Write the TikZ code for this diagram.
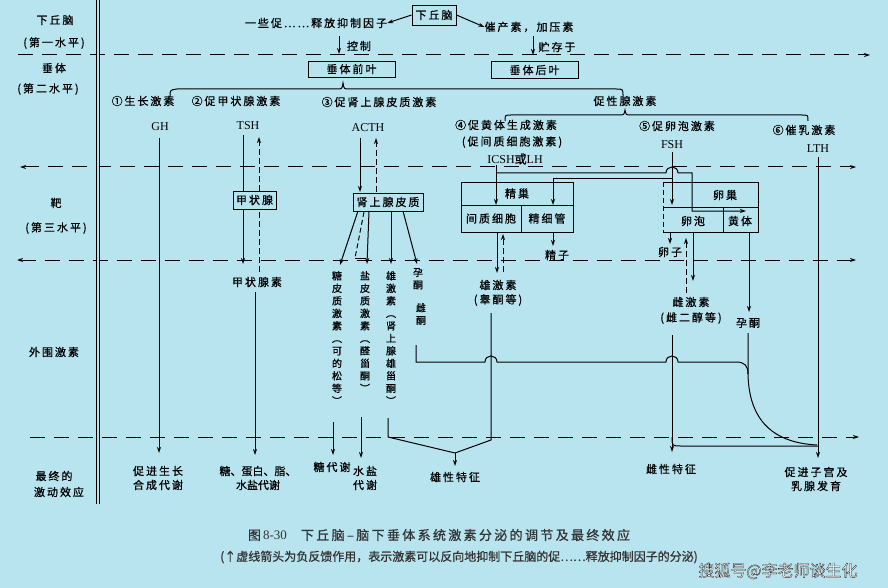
\documentclass[tikz,border=0pt]{standalone}
\usepackage{fontspec}
\setmainfont{Liberation Serif}
\newfontfamily\cjk[LetterSpace=18,FakeBold=0.7]{Noto Sans CJK SC}
\newfontfamily\cjkn[FakeBold=0.7]{Noto Sans CJK SC}
\newfontfamily\wmfont[FakeBold=2]{Noto Sans CJK SC}
\newfontfamily\lat{Liberation Serif}
\usetikzlibrary{arrows.meta}
\definecolor{bgc}{RGB}{184,228,240}
\begin{document}
\begin{tikzpicture}[x=1pt,y=-1pt,
  t/.style={font=\cjk\fontsize{11}{14}\selectfont, inner sep=0pt, align=center},
  tn/.style={font=\cjkn\fontsize{11}{14}\selectfont, inner sep=0pt, align=center},
  la/.style={font=\lat\fontsize{12}{14}\selectfont, inner sep=0pt},
  bx/.style={t, draw, line width=0.9pt, fill=bgc},
  ln/.style={line width=1pt},
  ar/.style={ln, -{Stealth[length=6pt,width=4pt]}},
  fb/.style={ar, dash pattern=on 6pt off 3pt},
  lev/.style={line width=1pt, dash pattern=on 15pt off 9pt},
  vt/.style={font=\cjk\fontsize{10}{12.5}\selectfont, inner sep=0pt, align=center, anchor=north},
]
\fill[bgc] (0,0) rectangle (888,588);
\useasboundingbox (0,0) rectangle (888,588);

% level lines
\coordinate (L1a) at (18,55);  \coordinate (L1b) at (870,55);
\coordinate (L2a) at (20,167); \coordinate (L2b) at (856,167);
\coordinate (L3a) at (17,260); \coordinate (L3b) at (856,260);
\coordinate (L4a) at (30,437); \coordinate (L4b) at (859,437);
\draw[lev,-{Stealth[length=6pt,width=4pt]}] (L1a) -- (L1b);
\draw[lev,{Stealth[length=6pt,width=4pt]}-{Stealth[length=6pt,width=4pt]}] (L2a) -- (L2b);
\draw[lev,{Stealth[length=6pt,width=4pt]}-{Stealth[length=6pt,width=4pt]}] (L3a) -- (L3b);
\draw[lev,-{Stealth[length=6pt,width=4pt]}] (L4a) -- (L4b);

% double vertical rule
\coordinate (V1) at (98,0); \coordinate (V2) at (98,504);
\draw[line width=1.1pt, double=bgc, double distance=1.6pt] (V1) -- (V2);

% left labels
\node[t] (lh1) at (55,20) {下丘脑};
\node[t] (lh2) at (54,43) {(第一水平)};
\node[t] (lp1) at (54,68) {垂体};
\node[t] (lp2) at (48,89) {(第二水平)};
\node[t] (lt1) at (56,203) {靶};
\node[t] (lt2) at (56,228) {(第三水平)};
\node[t] (lw) at (54,352) {外围激素};
\node[t] (lf1) at (54,476) {最终的};
\node[t] (lf2) at (59,492) {激动效应};

% top: hypothalamus
\node[bx, minimum width=44pt, minimum height=20pt] (hyp) at (434,15) {下丘脑};
\node[t] (rel) at (316,23) {一些促……释放抑制因子};
\node[t] (oxy) at (529,27) {催产素，加压素};
\draw[ar] (hyp.west) -- (rel.east);
\draw[ar] (hyp.east) -- (oxy.west);
\node[bx, minimum width=87pt, minimum height=16pt] (ant) at (351.5,69) {垂体前叶};
\node[bx, minimum width=87pt, minimum height=17pt] (pos) at (534.5,70) {垂体后叶};
\coordinate (k1) at (339,36); \coordinate (k2) at (339,54);
\draw[ar] (k1) -- (k2);
\node[t] (kz) at (359,46) {控制};
\coordinate (c1) at (533,36); \coordinate (c2) at (533,55);
\draw[ar] (c1) -- (c2);
\node[t] (zc) at (557,47) {贮存于};

% braces
\draw[ln] (170,97) .. controls (170,90) .. (177,89) -- (337,89) .. controls (342,89) .. (343,83) .. controls (344,89) .. (349,89) -- (616,89) .. controls (623,89) .. (623,96);
\draw[ln] (505,121) .. controls (505,115) .. (511,115) -- (619,115) .. controls (624,115) .. (625,110) .. controls (626,115) .. (631,115) -- (802,115) .. controls (808,115) .. (808,121);
\node[t] (gon) at (625,101) {促性腺激素};

% hormone names
\node[t] (h1) at (143,101) {①\,生长激素};
\node[t] (h2) at (236,101) {②\,促甲状腺激素};
\node[t] (h3) at (379,102) {③\,促肾上腺皮质激素};
\node[t] (h4) at (506,125) {④\,促黄体生成激素};
\node[t] (h4b) at (512,142) {(促间质细胞激素)};
\node[t] (h5) at (677,126) {⑤\,促卵泡激素};
\node[t] (h6) at (804,130) {⑥\,催乳激素};
\node[la] (gh) at (160,127) {GH};
\node[la] (tsh) at (248,126) {TSH};
\node[la] (acth) at (368,128) {ACTH};
\node[la] (lh) at (515,159) {ICSH{\cjkn 或}LH};
\node[la] (fsh) at (672,145) {FSH};
\node[la] (lth) at (818,149) {LTH};

% GH
\draw[ar] (159,138) -- (159,453);
\node[t] (e1) at (158,478) {促进生长\\合成代谢};

% TSH
\draw[ar] (243,135) -- (243,264);
\draw[fb] (259,272) -- (259,137);
\node[bx, minimum width=43pt, minimum height=18pt] (thy) at (254.5,200) {甲状腺};
\node[t] (t4) at (257,282) {甲状腺素};
\draw[ar] (255,292) -- (255,455);
\node[tn] (e2) at (258,478) {糖、蛋白、脂、\\水盐代谢};

% ACTH
\draw[ar] (360,138) -- (360,192);
\draw[fb] (376,192) -- (376,138);
\node[bx, minimum width=70pt, minimum height=18pt] (adr) at (388,202) {肾上腺皮质};
\draw[ar] (358,211) -- (340,265);
\draw[ln, dash pattern=on 5pt off 3pt] (364,212) -- (355,258);
\draw[ln] (355,258) -- (366,258);
\draw[ar] (369,211) -- (367,264);
\draw[ar] (391,211) -- (391,264);
\draw[ar] (403,211) -- (417,264);
\node[vt] (v1) at (337,271) {糖\\皮\\质\\激\\素\\︵\\可\\的\\松\\等\\︶};
\node[vt] (v2) at (365,271) {盐\\皮\\质\\激\\素\\︵\\醛\\甾\\酮\\︶};
\node[vt] (v3) at (391,271) {雄\\激\\素\\︵\\肾\\上\\腺\\雄\\甾\\酮\\︶};
\node[vt] (v4) at (418,268) {孕\\酮};
\node[vt] (v5) at (421,303) {雌\\酮};
\draw[ar] (333,422) -- (333,455);
\draw[ar] (361,417) -- (361,458);
\node[t] (e3a) at (332,467) {糖代谢};
\node[t] (e3b) at (365,478) {水盐\\代谢};

% male characteristics join
\coordinate (mA) at (455,453);
\coordinate (mB) at (455,466);
\draw[ln] (388,418) -- (388,437) -- (mA);
\draw[ln] (491,313) -- (491,440) -- (mA);
\draw[ar] (mA) -- (mB);
\node[t] (e4) at (455,477) {雄性特征};

% progesterone / oestrone line from adrenal
\draw[ln] (416,345) -- (416,362) -- (485,362) .. controls (485,354) and (497,354) .. (497,362) -- (666,362) .. controls (666,354) and (678,354) .. (678,362) -- (736,362) .. controls (745,362) and (748,366) .. (748,374);
\draw[ln] (748,333) -- (748,374) .. controls (749,425) and (778,443) .. (817,445);

% ovary box
\draw[line width=0.9pt] (663,182) -- (758,182) -- (758,232) -- (663,232);
\draw[line width=0.9pt, dash pattern=on 5pt off 3pt] (663,182) -- (663,232);
\draw[line width=0.9pt] (663,207) -- (758,207);
\draw[line width=0.9pt] (723,207) -- (723,232);
\node[t] (ova) at (725,195) {卵巢};
\node[t] (fol) at (693,221) {卵泡};
\node[t] (cl) at (740,221) {黄体};

% testis
\node[bx, minimum width=112pt, minimum height=23pt] (tes) at (517,193.5) {精巢};
\node[bx, minimum width=60pt, minimum height=27pt] (ley) at (491,218.5) {间质细胞};
\node[bx, minimum width=52pt, minimum height=27pt] (sem) at (547,218.5) {精细管};

% LH and FSH routes
\draw[ar] (496,165) -- (496,205);
\draw[ar] (496,173) -- (666,173) .. controls (666,165) and (678,165) .. (678,173) -- (692,173) -- (692,211) -- (746,211);
\draw[ar] (672,152) -- (672,205);
\draw[ar] (672,179) -- (553,179) -- (553,205);

% testis outputs
\draw[ar] (497,232) -- (497,273);
\draw[fb] (503,272) -- (503,234);
\node[t] (ta) at (498,285) {雄激素};
\node[t] (tb) at (498,300) {(睾酮等)};
\draw[ar] (553,232) -- (553,246);
\node[t] (sp) at (557,255) {精子};

% ovary outputs
\draw[ar] (670,232) -- (670,244);
\node[t] (egg) at (670,252) {卵子};
\draw[ar] (693,232) -- (693,281);
\draw[fb] (686,293) -- (686,238);
\node[t] (ea) at (691,302) {雌激素};
\node[t] (eb) at (691,318) {(雌二醇等)};
\draw[ar] (749,232) -- (749,312);
\node[t] (pg) at (748,323) {孕酮};

% oestrogen effects
\draw[ar] (672,335) -- (672,452);
\draw[ln] (672,437) .. controls (672,446) .. (681,446) -- (818,446);
\node[t] (e5) at (671,469) {雌性特征};

% LTH
\draw[ar] (818,157) -- (818,458);
\node[t] (e6) at (816,479) {促进子宫及\\乳腺发育};

% caption
\node[font=\cjk\fontsize{13}{15}\selectfont, inner sep=0pt, text=black!80] (cap1) at (439,535) {图\,{\lat 8-30}\hspace{14pt}下丘脑–脑下垂体系统激素分泌的调节及最终效应};
\node[font=\cjkn\fontsize{12}{14}\selectfont, inner sep=0pt, text=black!80] (cap2) at (459,557) {(↑虚线箭头为负反馈作用，表示激素可以反向地抑制下丘脑的促……释放抑制因子的分泌)};
\node[font=\wmfont\fontsize{16}{18}\selectfont, inner sep=0pt, text=white] (wm) at (778,571) {\special{pdf:literal direct 0.15 0.15 0.15 RG}搜狐号@李老师谈生化};
\end{tikzpicture}
\end{document}
